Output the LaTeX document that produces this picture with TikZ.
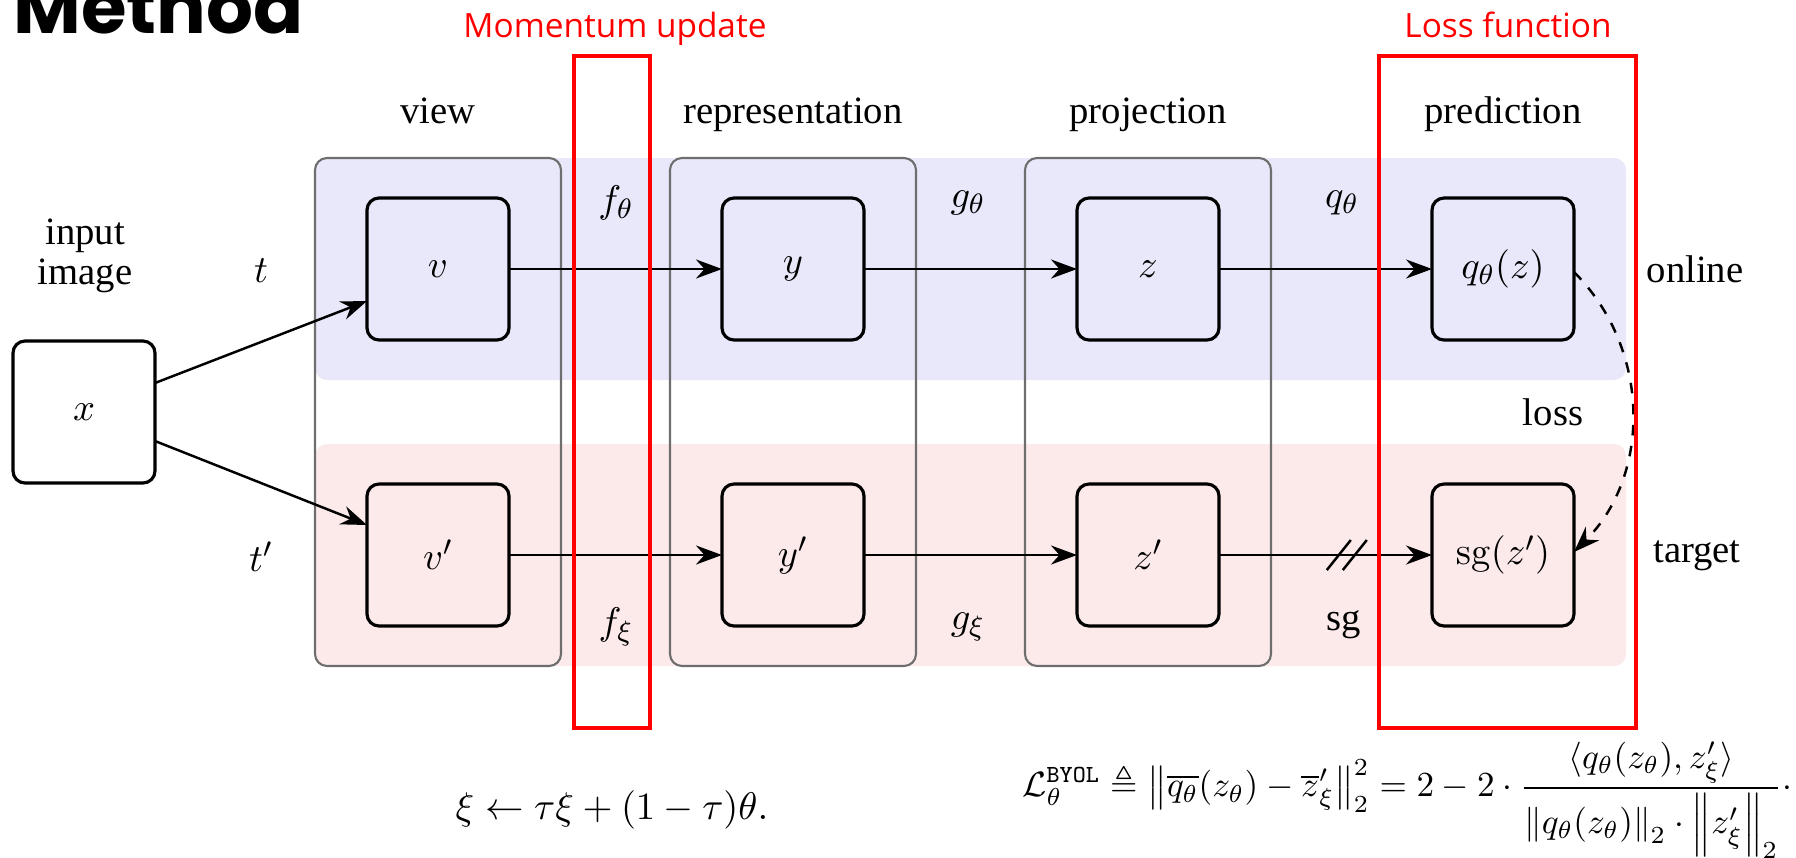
\documentclass[tikz,border=0pt]{standalone}
\usepackage{amsmath,amssymb}
\usepackage[no-math]{fontspec}
\setmainfont{Liberation Serif}
\newfontfamily\redfont{Open Sans}
\newfontfamily\titlefont{Poppins}
\usetikzlibrary{arrows.meta, positioning, fit, backgrounds}

\definecolor{onlinebg}{RGB}{232,232,250}
\definecolor{targetbg}{RGB}{252,233,233}
\definecolor{grpgray}{RGB}{110,110,110}

\begin{document}
\begin{tikzpicture}[
    node distance=1.44cm and 2.13cm,
    font=\fontsize{11}{13}\selectfont,
    blk/.style={draw, line width=0.9pt, rounded corners=0.12cm, minimum width=1.42cm, minimum height=1.42cm, inner sep=0pt, outer sep=0pt},
    grp/.style={draw=grpgray, semithick, rounded corners=0.12cm, inner xsep=0.52cm, inner ysep=0.4cm},
    band/.style={rounded corners=0.12cm, inner xsep=0.52cm, inner ysep=0.4cm},
    arrow/.style={-{Stealth[length=2.6mm, width=1.9mm]}, line width=0.7pt},
    redbox/.style={draw=red, line width=1pt},
    redlabel/.style={text=red, font=\redfont\fontsize{9.5}{11}\selectfont}
]
\useasboundingbox (0,0) rectangle (17.96,-8.57);

% input and online / target rows
\node[blk, fill=white] (x) at (0.84,-4.12) {$x$};
\node[blk] (v) at (4.38,-2.69) {$v$};
\node[blk, right=of v] (y) {$y$};
\node[blk, right=of y] (z) {$z$};
\node[blk, right=of z] (q) {$q_\theta(z)$};
\node[blk, below=of v] (vt) {$v'$};
\node[blk, below=of y] (yt) {$y'$};
\node[blk, below=of z] (zt) {$z'$};
\node[blk, below=of q] (sg) {$\mathrm{sg}(z')$};

% column groups
\node[grp, fit=(v)(vt)] (viewgrp) {};
\node[grp, fit=(y)(yt)] (repgrp) {};
\node[grp, fit=(z)(zt)] (projgrp) {};

\begin{scope}[on background layer]
\node[band, fill=onlinebg, fit=(v)(q)] (onlineband) {};
\node[band, fill=targetbg, fit=(vt)(sg)] (targetband) {};
\end{scope}

% titles
\coordinate (ttl) at (0,-1.23);
\node[anchor=base] at (v |- ttl) {view};
\node[anchor=base] at (y |- ttl) {representation};
\node[anchor=base] at (z |- ttl) {projection};
\node[anchor=base] at (q |- ttl) {prediction};

\node[align=center, font=\fontsize{11}{11.5}\selectfont] at (0.85,-2.56) {input\\image};
\node at (2.61,-2.71) {$t$};
\node at (2.61,-5.57) {$t'$};
\node[anchor=base] at (16.95,-2.82) {online};
\node[anchor=base] at (16.97,-5.62) {target};
\node[anchor=base] at (15.53,-4.25) {loss};

\node at (6.16,-2.03) {$f_\theta$};
\node at (9.68,-2.03) {$g_\theta$};
\node at (13.42,-2.03) {$q_\theta$};
\node at (6.16,-6.27) {$f_\xi$};
\node at (9.68,-6.27) {$g_\xi$};
\node at (13.44,-6.25) {sg};

% connectors
\draw[arrow] ([yshift=0.29cm]x.east) -- ([yshift=-0.32cm]v.west);
\draw[arrow] ([yshift=-0.29cm]x.east) -- ([yshift=0.30cm]vt.west);
\draw[arrow] (v) -- (y);
\draw[arrow] (y) -- (z);
\draw[arrow] (z) -- (q);
\draw[arrow] (vt) -- (yt);
\draw[arrow] (yt) -- (zt);
\draw[arrow] (zt) -- coordinate[pos=0.6] (cut) (sg);
\draw[line width=0.7pt] ([shift={(-0.2,-0.15)}]cut) -- ([shift={(0.04,0.15)}]cut);
\draw[line width=0.7pt] ([shift={(-0.04,-0.15)}]cut) -- ([shift={(0.2,0.15)}]cut);
\draw[arrow, dashed] ([yshift=-0.03cm]q.east) to[bend left=45] ([yshift=0.03cm]sg.east);

% red highlights
\draw[redbox] (5.74,-0.56) rectangle (6.50,-7.28);
\draw[redbox] (13.79,-0.56) rectangle (16.36,-7.28);
\node[redlabel, anchor=base] at (6.15,-0.37) {Momentum update};
\node[redlabel, anchor=base] at (15.08,-0.37) {Loss function};

\node[anchor=base west, inner sep=0pt, font=\titlefont\bfseries\fontsize{21}{23}\selectfont] at (0.13,-0.33) {Method};

% equations
\node[font=\fontsize{11.4}{14}\selectfont] (upd) at (6.12,-8.1) {$\xi \leftarrow \tau\xi + (1-\tau)\theta.$};
\node[anchor=east, inner sep=0pt, font=\fontsize{10}{12}\selectfont] (lossfn) at (17.93,-8.0) {$\displaystyle \mathcal{L}_\theta^{\texttt{BYOL}} \triangleq \left\|\overline{q_\theta}(z_\theta) - \overline{z}'_\xi\right\|_2^2 = 2 - 2\cdot\frac{\langle q_\theta(z_\theta), z'_\xi\rangle}{\left\|q_\theta(z_\theta)\right\|_2\cdot\left\|z'_\xi\right\|_2}{\cdot}$};
\end{tikzpicture}
\end{document}
